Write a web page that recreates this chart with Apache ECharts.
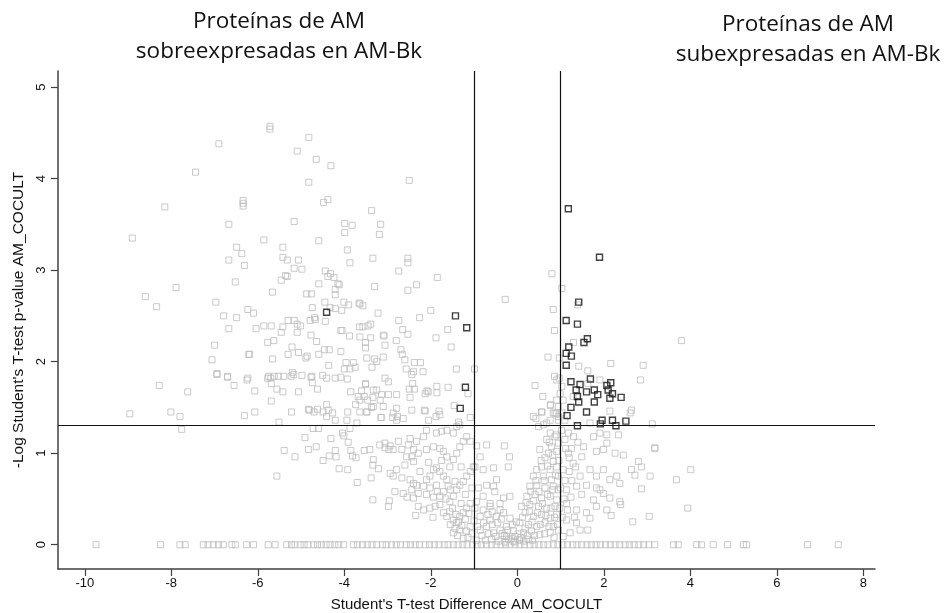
<!DOCTYPE html>
<html><head><meta charset="utf-8">
<script src="https://cdn.jsdelivr.net/npm/echarts@6/dist/echarts.min.js"></script>
<style>html,body{margin:0;padding:0;background:#fff}#c{width:946px;height:613px}</style>
</head><body><div id="c"></div><script>
const xTicks = [-10,-8,-6,-4,-2,0,2,4,6,8];
const yTicks = [0,1,2,3,4,5];
const xCuts = [-1, 1];
const yCut = 1.3;
const titleLeft = 'Proteínas de AM\nsobreexpresadas en AM-Bk';
const titleRight = 'Proteínas de AM\nsubexpresadas en AM-Bk';
const xName = "Student's T-test Difference AM_COCULT";
const yName = "-Log Student's T-test p-value AM_COCULT";

const grayUpperLeft = [[-5.72,4.57],[-5.72,4.54],[-4.82,4.45],[-6.90,4.38],[-5.09,4.30],[-4.65,4.21],[-4.31,4.14],[-7.44,4.07],[-4.82,3.96],[-6.34,3.76],[-6.34,3.73],[-6.34,3.70],[-4.38,3.77],[-4.48,3.74],[-8.15,3.69],[-6.67,3.50],[-5.16,3.53],[-3.99,3.51],[-3.82,3.49],[-3.99,3.41],[-8.90,3.35],[-5.86,3.33],[-4.59,3.32],[-6.49,3.25],[-6.37,3.18],[-5.42,3.25],[-5.42,3.14],[-5.32,3.11],[-5.06,3.11],[-3.93,3.22],[-3.87,3.08],[-6.67,3.11],[-6.31,3.05],[-5.16,3.02],[-4.98,3.01],[-4.44,2.99],[-4.32,2.96],[-4.24,2.92],[-4.38,2.93],[-5.36,2.94],[-5.32,2.93],[-5.46,2.89],[-6.52,2.87],[-4.59,2.85],[-4.15,2.85],[-4.12,2.84],[-4.21,2.79],[-4.21,2.73],[-7.89,2.81],[-5.66,2.76],[-4.87,2.74],[-4.76,2.74],[-8.60,2.71],[-8.34,2.60],[-6.97,2.65],[-6.23,2.57],[-6.10,2.53],[-4.74,2.59],[-4.45,2.65],[-4.01,2.65],[-3.90,2.62],[-3.66,2.64],[-4.21,2.58],[-4.06,2.56],[-4.33,2.59],[-6.79,2.50],[-6.49,2.48],[-5.30,2.45],[-5.16,2.45],[-5.09,2.41],[-5.01,2.39],[-4.79,2.45],[-4.69,2.48],[-4.67,2.46],[-4.44,2.44],[-6.67,2.36],[-6.04,2.36],[-5.86,2.39],[-5.69,2.39],[-5.46,2.32],[-5.42,2.38],[-5.09,2.32],[-4.77,2.29],[-4.64,2.22],[-4.08,2.34],[-4.05,2.34],[-3.88,2.28],[-3.65,2.38],[-7.00,2.18],[-7.06,2.02],[-6.94,1.87],[-6.70,1.84],[-6.21,2.08],[-6.19,2.08],[-5.77,2.21],[-5.63,2.23],[-5.66,2.03],[-5.21,2.16],[-5.30,2.08],[-5.06,2.10],[-4.86,2.06],[-4.89,2.04],[-4.59,2.08],[-4.46,2.13],[-4.35,2.13],[-4.08,2.11],[-4.36,1.96],[-3.96,1.99],[-3.79,1.99],[-4.00,1.92],[-3.87,1.92],[-3.75,1.94],[-5.20,1.88],[-5.17,1.86],[-5.23,1.84],[-5.40,1.84],[-5.62,1.84],[-5.52,1.84],[-5.70,1.82],[-5.77,1.82],[-4.98,1.85],[-4.77,1.83],[-4.50,1.85],[-4.41,1.82],[-4.21,1.82],[-4.08,1.83],[-3.93,1.81],[-6.23,1.82],[-2.50,3.98]];

const grayUpperMid = [[-3.37,3.65],[-3.16,3.50],[-3.19,3.39],[-3.34,3.13],[-2.53,3.13],[-2.53,3.08],[-2.74,2.99],[-1.85,2.92],[-3.30,2.82],[-2.33,2.84],[-2.53,2.78],[-0.28,2.68],[-3.57,2.61],[-3.64,2.63],[-2.00,2.56],[-3.22,2.53],[-2.26,2.48],[-2.74,2.45],[-3.57,2.38],[-3.45,2.39],[-3.39,2.41],[-2.65,2.35],[-2.53,2.30],[-1.61,2.35],[-3.10,2.29],[-3.08,2.28],[-3.39,2.26],[-3.64,2.27],[-1.88,2.26],[-2.80,2.23],[-3.51,2.21],[-3.06,2.18],[-3.51,2.15],[-1.53,2.16],[-2.69,2.13],[-2.66,2.08],[-3.48,2.04],[-3.30,2.03],[-3.25,2.00],[-3.10,2.05],[-2.60,2.02],[-2.38,1.99],[-2.24,1.99],[-0.99,1.92],[-3.36,1.94],[-2.57,1.92],[-2.40,1.89],[-2.44,1.86],[-2.18,1.89],[-1.41,1.92],[-3.06,1.82],[-2.98,1.78],[-3.51,1.76],[-2.42,1.76],[-1.60,1.72],[-1.86,1.73],[-1.14,1.65],[-3.25,1.69],[-3.14,1.64],[-2.98,1.64],[-2.79,1.64],[-2.50,1.70],[-2.38,1.70],[-2.09,1.68],[-2.06,1.67],[-2.13,1.65],[-2.48,1.61],[-1.86,1.66],[-3.54,1.62],[-3.46,1.58],[-3.34,1.61],[-3.64,1.58],[-3.33,1.51],[-3.10,1.51],[-2.79,1.49],[-2.44,1.47],[-2.15,1.47],[-2.13,1.46],[-1.81,1.46],[-1.79,1.42],[-2.05,1.36],[-1.88,1.40],[-1.46,1.52],[-1.36,1.34],[-1.09,1.39],[-2.77,1.40],[-2.64,1.38],[-2.88,1.39],[-3.15,1.39],[-3.48,1.45],[-3.64,1.45]];

const grayLowerLeft = [[-8.28,1.74],[-7.62,1.67],[-8.96,1.43],[-8.01,1.45],[-7.80,1.40],[-7.76,1.26],[-6.31,1.41],[-6.07,1.45],[-6.55,1.74],[-6.25,1.80],[-6.70,1.83],[-6.95,1.86],[-6.07,1.68],[-5.69,1.57],[-5.51,1.34],[-5.75,1.84],[-5.69,1.76],[-5.56,1.70],[-5.42,1.67],[-5.06,1.67],[-5.22,1.45],[-4.83,1.48],[-4.62,1.70],[-4.74,1.77],[-4.75,1.84],[-4.81,1.47],[-4.70,1.45],[-4.62,1.48],[-4.49,1.45],[-4.41,1.53],[-4.37,1.47],[-4.41,1.40],[-4.27,1.44],[-4.21,1.36],[-3.94,1.36],[-3.71,1.33],[-3.92,1.45],[-3.74,1.53],[-3.68,1.62],[-3.60,1.68],[-3.85,1.67],[-3.51,1.75],[-3.33,1.69],[-3.17,1.58],[-3.37,1.50],[-3.48,1.45],[-3.15,1.39],[-2.87,1.44],[-2.79,1.36],[-4.72,1.27],[-4.60,1.27],[-4.91,1.17],[-4.31,1.16],[-4.83,1.04],[-4.65,1.07],[-4.49,0.92],[-4.35,0.97],[-4.21,1.03],[-4.19,0.96],[-5.39,1.03],[-5.14,0.96],[-5.56,0.75],[-4.04,1.22],[-4.01,1.19],[-3.87,1.27],[-3.91,1.12],[-3.85,1.03],[-3.81,0.97],[-3.73,0.95],[-4.12,0.83],[-3.92,0.82],[-3.70,0.68],[-3.34,0.49],[-2.96,0.48],[-2.98,0.42],[-3.54,1.03],[-3.41,1.04],[-3.33,0.93],[-3.34,0.87],[-3.38,0.73],[-3.21,0.83],[-3.06,1.06],[-2.97,1.04]];

const grayLowerMid = [[-3.18,1.09],[-3.06,1.11],[-2.94,1.08],[-2.87,1.04],[-2.75,1.13],[-2.67,1.04],[-2.56,0.96],[-2.44,0.96],[-2.40,0.91],[-2.60,0.87],[-2.79,0.82],[-2.94,0.78],[-2.87,0.75],[-2.67,0.73],[-2.48,0.71],[-2.40,0.67],[-2.33,0.65],[-2.17,0.64],[-2.10,0.71],[-2.02,0.75],[-1.94,0.82],[-1.87,0.84],[-1.79,0.80],[-1.71,0.75],[-1.63,0.71],[-1.56,0.85],[-1.48,0.93],[-1.40,1.00],[-1.33,1.07],[-1.25,1.13],[-1.17,1.18],[-1.09,1.13],[-2.10,1.04],[-1.94,1.07],[-1.79,1.05],[-1.71,1.02],[-1.63,0.96],[-1.87,1.22],[-1.75,1.24],[-1.63,1.25],[-1.48,1.22],[-1.40,1.29],[-1.33,1.31],[-2.10,1.25],[-2.17,1.18],[-2.33,1.13],[-2.48,1.16],[-2.52,1.09],[-2.40,1.04],[-2.29,1.00],[-2.83,0.58],[-2.64,0.56],[-2.44,0.60],[-2.40,0.51],[-2.29,0.56],[-2.10,0.55],[-1.94,0.52],[-1.79,0.53],[-2.29,0.42],[-2.17,0.38],[-2.02,0.40],[-1.90,0.42],[-1.79,0.44],[-1.71,0.35],[-1.63,0.31],[-1.56,0.36],[-1.48,0.27],[-1.40,0.24],[-1.33,0.31],[-1.25,0.35],[-1.17,0.40],[-1.09,0.45],[-1.44,0.18],[-1.33,0.16],[-1.17,0.15],[-1.09,0.20],[-1.48,0.13],[-1.25,0.07],[-1.36,0.25],[-1.56,0.47],[-1.48,0.53],[-1.40,0.60],[-1.33,0.65],[-1.25,0.69],[-1.17,0.75],[-1.09,0.80],[-1.02,0.85],[-1.44,0.69],[-1.60,0.64],[-1.71,0.58],[-1.87,0.65],[-2.02,0.62],[-2.25,0.80],[-2.05,0.90],[-1.85,0.58],[-1.65,0.50],[-1.95,0.30],[-2.35,0.32],[-1.55,0.60],[-1.75,0.92],[-2.55,0.52],[-1.30,0.85],[-1.20,0.55],[-1.05,0.62]];

const grayCenter = [[-0.30,1.08],[-0.94,1.08],[-0.71,1.09],[-0.86,0.96],[-0.98,0.85],[-0.79,0.82],[-0.55,0.84],[-0.48,0.71],[-0.71,0.65],[-0.90,0.62],[-0.55,0.64],[-0.32,0.51],[-0.17,0.53],[-0.40,0.45],[-0.63,0.42],[-0.79,0.38],[-0.86,0.31],[-0.63,0.27],[-0.48,0.31],[-0.32,0.35],[-0.17,0.29],[-0.02,0.25],[-0.25,0.20],[-0.40,0.16],[-0.55,0.13],[-0.71,0.20],[-0.86,0.16],[-0.09,0.15],[-0.21,0.85],[-0.18,0.96],[-0.63,0.45],[-0.79,0.53],[-0.94,0.47],[-0.52,0.58],[-0.25,0.09],[-0.05,0.09],[0.41,1.74],[0.59,1.62],[0.37,1.40],[0.43,1.38],[0.77,1.53],[0.91,1.58],[0.87,1.44],[0.95,1.40],[0.56,1.45],[0.68,1.33],[0.49,1.29],[0.60,1.31],[0.76,1.22],[0.87,1.18],[0.68,1.15],[0.95,1.11],[0.79,1.07],[0.52,1.04],[0.72,1.00],[0.91,1.02],[0.64,0.95],[0.83,0.91],[0.56,0.85],[0.76,0.82],[0.91,0.85],[0.45,0.82],[0.37,0.75],[0.60,0.75],[0.79,0.71],[0.95,0.75],[0.29,0.64],[0.45,0.65],[0.64,0.62],[0.83,0.64],[0.95,0.60],[0.22,0.53],[0.41,0.55],[0.56,0.51],[0.76,0.53],[0.91,0.49],[0.10,0.42],[0.29,0.44],[0.49,0.42],[0.68,0.40],[0.87,0.42],[0.18,0.35],[0.37,0.31],[0.56,0.33],[0.76,0.29],[0.91,0.33],[0.06,0.24],[0.26,0.22],[0.45,0.20],[0.64,0.24],[0.83,0.20],[0.14,0.13],[0.33,0.15],[0.52,0.11],[0.76,0.13],[0.95,0.16],[0.05,0.05],[0.15,0.04],[0.25,0.06],[-0.10,0.04],[-0.20,0.06],[0.35,0.05],[0.02,0.12],[-0.30,0.10],[0.80,2.96],[1.03,2.80],[1.39,2.62],[0.83,2.57],[0.86,2.34],[1.30,2.21],[0.71,2.05],[0.97,2.04],[1.42,1.95],[1.63,1.90],[0.86,1.84],[0.97,1.82],[0.91,1.80],[1.03,1.73],[0.99,1.65],[1.06,1.58],[0.95,1.51],[1.03,1.44],[1.10,1.36],[0.95,1.36],[0.83,1.44],[0.76,1.36],[1.29,1.62],[1.68,1.33],[0.57,1.45],[0.76,1.52],[0.90,1.43]];

const grayCenterDense = [[-1.55,0.22],[-1.50,0.40],[-1.42,0.33],[-1.38,0.10],[-1.30,0.45],[-1.28,0.21],[-1.20,0.28],[-1.14,0.08],[-1.12,0.34],[-1.05,0.12],[-1.00,0.26],[-0.98,0.40],[-0.95,0.05],[-0.92,0.20],[-0.82,0.10],[-0.78,0.24],[-0.74,0.05],[-0.68,0.33],[-0.66,0.12],[-0.60,0.06],[-0.58,0.22],[-0.50,0.09],[-0.46,0.24],[-0.44,0.04],[-0.37,0.28],[-0.35,0.12],[-0.28,0.03],[-0.22,0.16],[-0.14,0.07],[-0.12,0.22],[-0.06,0.03],[-0.40,0.38],[-0.58,0.36],[0.08,0.08],[0.12,0.30],[0.18,0.18],[0.20,0.46],[0.24,0.10],[0.28,0.36],[0.31,0.58],[0.34,0.25],[0.38,0.48],[0.40,0.10],[0.43,0.70],[0.47,0.35],[0.50,0.58],[0.53,0.22],[0.55,0.92],[0.58,0.45],[0.62,0.70],[0.63,0.12],[0.66,0.32],[0.70,0.55],[0.70,0.86],[0.73,0.20],[0.74,1.12],[0.78,0.40],[0.81,0.60],[0.82,0.98],[0.85,0.08],[0.86,0.30],[0.88,0.76],[0.90,1.20],[0.93,0.22],[0.96,0.92],[0.98,0.40],[1.00,0.62],[1.02,1.25],[1.04,0.30],[1.06,0.82],[1.08,0.50],[1.12,1.05],[1.16,0.38],[1.20,0.95],[1.24,0.52],[1.26,0.70],[1.30,1.18],[1.32,0.30],[1.35,0.85]];

const grayRight = [[3.80,2.23],[2.16,1.98],[2.91,1.96],[2.85,1.80],[1.91,1.80],[1.63,1.76],[2.64,1.47],[2.61,1.44],[2.14,1.46],[3.12,1.32],[3.18,1.06],[1.18,1.00],[1.29,0.89],[1.49,0.96],[1.68,0.82],[1.83,0.75],[1.99,0.82],[2.14,0.71],[2.30,0.75],[2.37,0.67],[2.64,0.82],[2.87,0.85],[2.80,0.91],[2.72,0.76],[3.07,0.75],[3.68,0.71],[4.01,0.82],[2.26,1.00],[1.99,1.04],[1.83,1.02],[1.53,1.07],[2.07,1.20],[2.34,1.20],[1.76,1.18],[1.91,1.22],[2.07,1.11],[3.18,1.05],[2.45,0.98],[2.87,0.61],[2.37,0.47],[2.39,0.44],[2.17,0.32],[2.67,0.25],[3.05,0.31],[3.94,0.40],[1.63,0.16],[1.14,0.60],[1.37,0.64],[1.60,0.65],[1.83,0.62],[1.99,0.56],[2.14,0.51],[1.14,0.45],[1.37,0.38],[1.60,0.35],[1.83,0.42],[2.07,0.38],[1.14,0.27],[1.37,0.24],[1.68,0.29],[1.22,0.13],[1.45,0.16],[1.06,0.09],[1.76,0.49],[1.91,0.60],[1.49,0.55],[1.18,1.22],[1.10,1.15],[1.25,1.05],[1.40,1.12],[1.20,0.80],[1.45,0.75],[1.10,0.70]];

const zeroRowX = [-9.74,-8.25,-7.80,-7.68,-7.26,-7.15,-7.03,-6.91,-6.80,-6.60,-6.52,-6.26,-6.10,-5.76,-5.60,-5.33,-5.22,-5.14,-5.02,-4.93,-4.84,-4.71,-4.62,-4.53,-4.42,-4.33,-4.22,-4.13,-4.02,-3.79,-3.70,-3.58,-3.47,-3.36,-3.25,-3.12,-3.03,-2.91,-2.80,-2.70,-2.57,-2.47,-2.36,-2.26,-2.13,-2.03,-1.92,-1.81,-1.69,-1.60,-1.48,-1.37,-1.26,-1.16,-1.04,-0.93,-0.83,-0.71,-0.60,-0.49,-0.38,-0.27,-0.17,-0.05,0.06,0.17,0.29,0.39,0.50,0.61,0.71,0.83,0.94,1.05,1.16,1.28,1.38,1.49,1.61,1.71,1.82,1.92,2.04,2.15,2.26,2.37,2.49,2.59,2.70,2.81,2.92,3.04,3.18,3.61,3.72,4.15,4.26,4.53,4.86,5.23,5.30,6.71,7.42];

const blackPoints = [[-4.41,2.54],[-1.43,2.50],[-1.17,2.37],[-1.20,1.72],[-1.32,1.49],[1.18,3.67],[1.90,3.14],[1.42,2.65],[1.13,2.45],[1.39,2.41],[1.62,2.25],[1.54,2.21],[1.19,2.16],[1.13,2.09],[1.25,2.06],[1.13,1.96],[1.24,1.78],[1.69,1.81],[1.45,1.75],[1.36,1.69],[1.39,1.62],[1.60,1.67],[1.78,1.69],[1.86,1.64],[1.42,1.56],[1.78,1.56],[2.07,1.74],[2.16,1.77],[2.10,1.69],[2.20,1.65],[2.14,1.60],[2.40,1.61],[1.24,1.50],[1.60,1.45],[1.15,1.41],[1.39,1.30],[1.96,1.36],[2.20,1.36],[2.28,1.30],[2.51,1.35],[1.92,1.32]];

const grayPoints = [].concat(grayUpperLeft, grayUpperMid, grayLowerLeft, grayLowerMid, grayCenter, grayCenterDense, grayRight, zeroRowX.map(x => [x, 0]));

const axisColor = '#404040';
const chart = echarts.init(document.getElementById('c'));
chart.setOption({
  animation: false,
  backgroundColor: '#ffffff',
  grid: { left: 58, right: 71, top: 71, bottom: 44, containLabel: false, outerBoundsMode: 'none' },
  xAxis: {
    type: 'value', min: -10.62, max: 8.27,
    name: xName, nameLocation: 'middle', nameGap: 28,
    nameTextStyle: { fontFamily: 'Liberation Sans', fontSize: 15, color: '#111' },
    axisLine: { onZero: false, lineStyle: { color: axisColor, width: 1.5 } },
    axisTick: { customValues: xTicks, length: 7, lineStyle: { color: axisColor, width: 1.2 } },
    axisLabel: { customValues: xTicks, margin: 8, fontFamily: 'Liberation Sans', fontSize: 13, color: '#111' },
    splitLine: { show: false }
  },
  yAxis: {
    type: 'value', min: -0.265, max: 5.175,
    name: yName, nameLocation: 'middle', nameGap: 27,
    nameTextStyle: { fontFamily: 'Liberation Sans', fontSize: 15.5, color: '#111' },
    axisLine: { onZero: false, lineStyle: { color: axisColor, width: 1.5 } },
    axisTick: { customValues: yTicks, length: 7, lineStyle: { color: axisColor, width: 1.2 } },
    axisLabel: { customValues: yTicks, rotate: 90, margin: 10, fontFamily: 'Liberation Sans', fontSize: 13, color: '#111' },
    splitLine: { show: false }
  },
  graphic: [
    { type: 'text', x: 279, y: 7, style: { text: titleLeft, align: 'center', verticalAlign: 'top', font: '22.5px "Open Sans"', lineHeight: 30, fill: '#111' } },
    { type: 'text', x: 808, y: 10, style: { text: titleRight, align: 'center', verticalAlign: 'top', font: '22.5px "Open Sans"', lineHeight: 30, fill: '#111' } }
  ],
  series: [
    {
      type: 'scatter', data: grayPoints, symbol: 'rect', symbolSize: 6, silent: true,
      itemStyle: { color: 'rgba(255,255,255,0)', borderColor: '#bdbdbd', borderWidth: 1 },
      markLine: {
        silent: true, symbol: 'none', label: { show: false },
        lineStyle: { color: '#111', width: 1.2, type: 'solid' },
        data: [{ xAxis: xCuts[0] }, { xAxis: xCuts[1] }, { yAxis: yCut }]
      }
    },
    {
      type: 'scatter', data: blackPoints, symbol: 'rect', symbolSize: 6, silent: true, z: 3,
      itemStyle: { color: 'rgba(255,255,255,0)', borderColor: '#111', borderWidth: 1.4 }
    }
  ]
});
</script></body></html>
